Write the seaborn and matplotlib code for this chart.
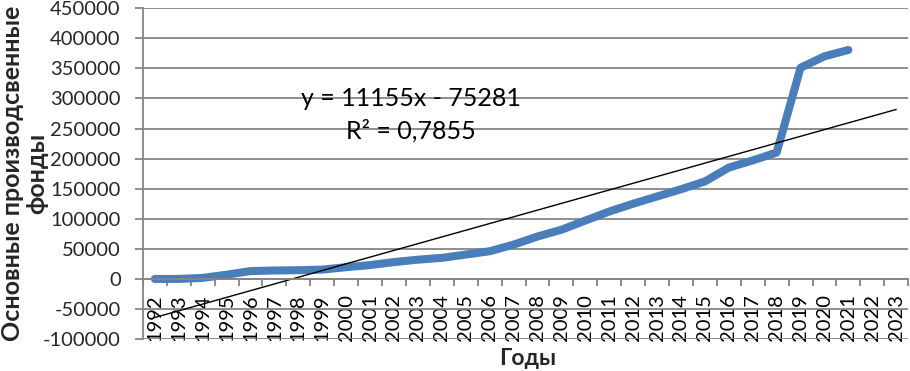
'''
Fixed assets by year with linear trend (Excel-style chart)
Output: out.png
'''

import numpy as np
import pandas as pd
import seaborn as sns
import matplotlib.pyplot as plt
from matplotlib.ticker import MultipleLocator

# data
years = list(range(1992, 2024))
data_years = list(range(1992, 2022))
funds = [0, 0, 1700, 7000, 13000, 14000, 14500, 15500, 19500, 23000,
         28000, 32000, 35000, 40500, 46000, 57000, 70500, 81700, 97000, 112000,
         125000, 137000, 149000, 162000, 185000, 197000, 210000, 351000, 370000, 380500]

# trend line coefficients as printed on the chart (x = 1 for 1992)
trend_slope = 11155
trend_intercept = -75281
eq_text = 'y = 11155x - 75281\nR² = 0,7855'

y_label = 'Основные производсвенные\nфонды'
x_label = 'Годы'

# plot settings
sns.set_theme(style="white")
plt.rcParams['font.family'] = ['Lato', 'DejaVu Sans']

df = pd.DataFrame({'year': data_years, 'funds': funds})
trend_df = pd.DataFrame({'year': years})
trend_df['trend'] = trend_slope * (np.arange(len(years)) + 1) + trend_intercept

fig, ax = plt.subplots(figsize=(9.1, 3.71), dpi=100)
fig.subplots_adjust(left=0.157, right=0.998, top=0.978, bottom=0.086)

grid_col = '#858585'
ax.set_ylim(-100000, 450000)
ax.set_xlim(years[0] - 0.5, years[-1] + 0.5)
ax.yaxis.set_major_locator(MultipleLocator(50000))
ax.grid(axis='y', color=grid_col, linewidth=1.3)
ax.set_axisbelow(True)

sns.lineplot(data=df, x='year', y='funds', ax=ax, color='#4a7ebb',
             linewidth=5.8, solid_capstyle='round', solid_joinstyle='round')
sns.lineplot(data=trend_df, x='year', y='trend', ax=ax, color='black', linewidth=1)

# axis crossing at zero like in excel
for side in ['top', 'right']:
    ax.spines[side].set_visible(False)
ax.spines['bottom'].set_position(('data', 0))
ax.spines['bottom'].set_color(grid_col)
ax.spines['bottom'].set_linewidth(1.3)
ax.spines['left'].set_color(grid_col)
ax.spines['left'].set_linewidth(1.3)

ax.set_xticks(years)
ax.set_xticklabels([str(y) for y in years], rotation=90, fontsize=14.5)
ax.set_xticks(np.arange(years[0] - 0.5, years[-1] + 1), minor=True)
ax.tick_params(axis='x', which='major', length=0, pad=11, colors='black')
ax.tick_params(axis='x', which='minor', length=5, width=1.3, direction='out',
               color=grid_col, bottom=True)
ax.tick_params(axis='y', length=6, width=1.3, direction='out', color=grid_col,
               labelsize=14.5, pad=10, left=True)
ax.set_yticklabels([f'{int(v)}' for v in ax.get_yticks()])

ax.set_ylabel(y_label, fontsize=18, fontweight='bold', linespacing=1.1)
ax.yaxis.set_label_coords(-0.123, 0.5)
ax.set_xlabel(x_label, fontsize=16.5, fontweight='bold')
ax.xaxis.set_label_coords(0.503, -0.028)

ax.text(0.35, 0.677, eq_text, transform=ax.transAxes, ha='center', va='center',
        fontsize=18, linespacing=1.45, color='black')

plt.savefig('out.png', dpi=100)
plt.close()
